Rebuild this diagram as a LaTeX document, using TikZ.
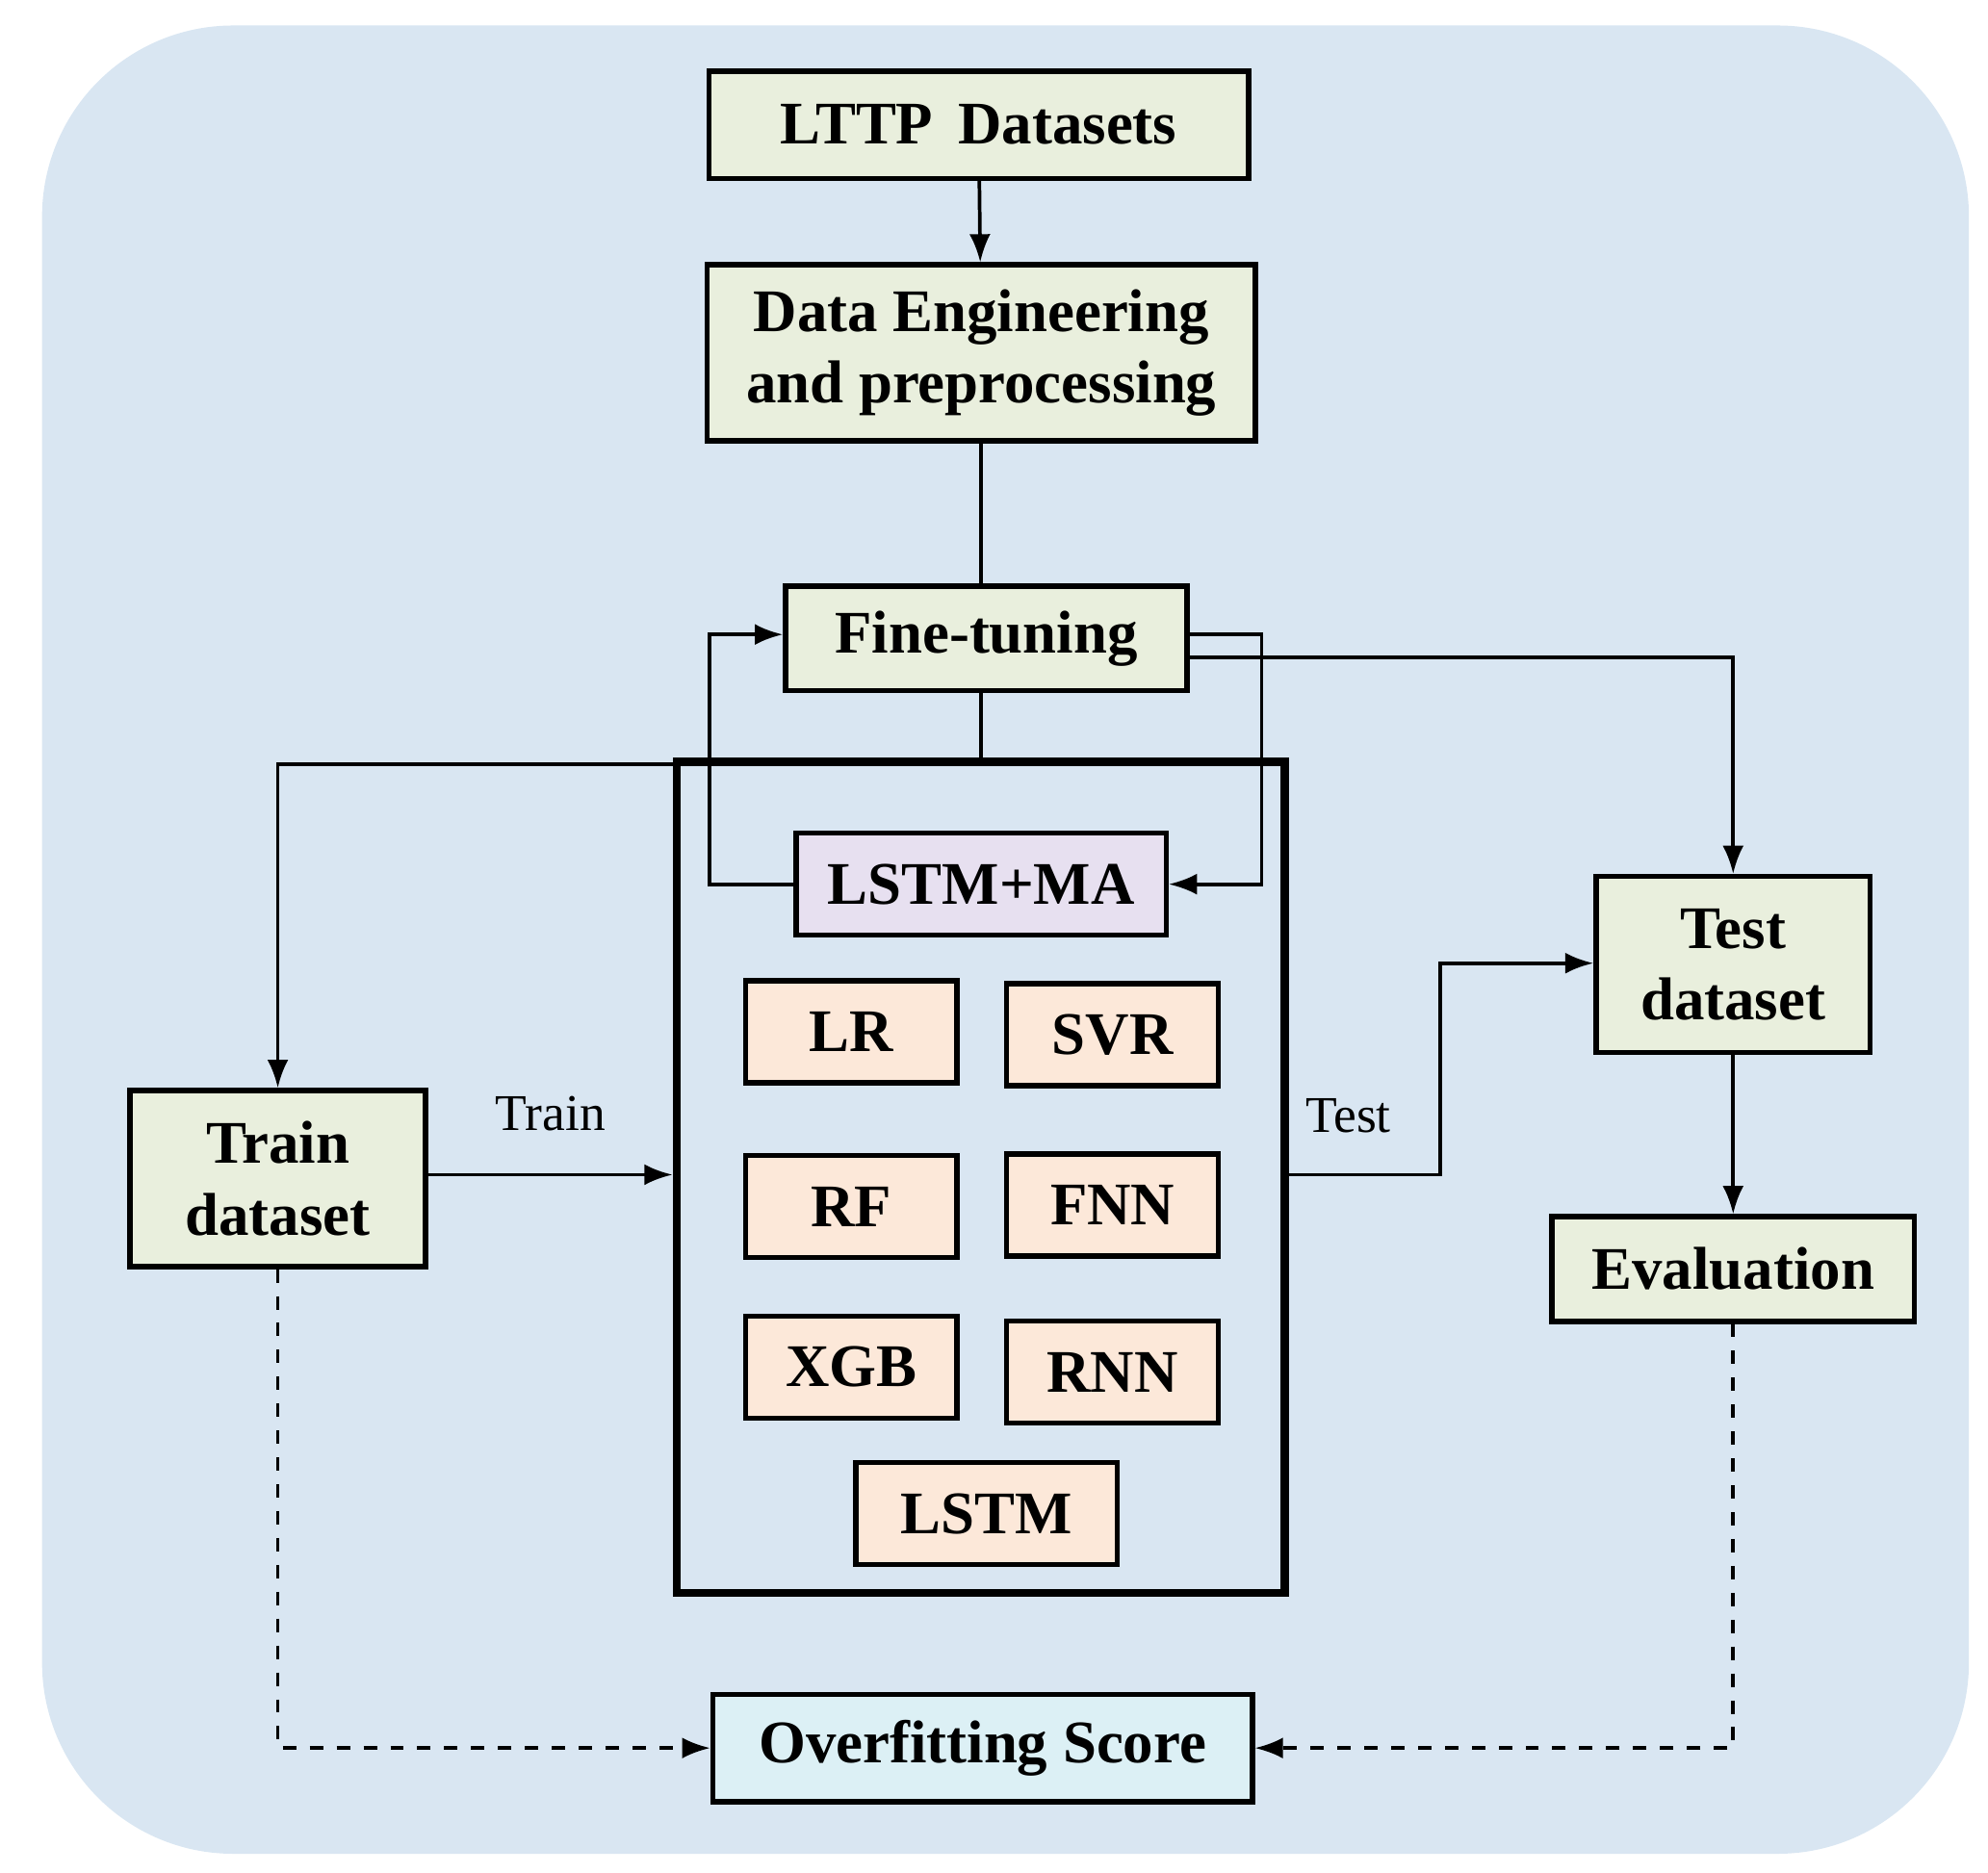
\documentclass[tikz,border=0pt]{standalone}
\usepackage{fontspec}
\setmainfont{Liberation Serif}
\usetikzlibrary{arrows.meta}
\definecolor{bgblue}{HTML}{D9E6F2}
\definecolor{boxgreen}{HTML}{E9EFDD}
\definecolor{boxorange}{HTML}{FCE8D9}
\definecolor{boxpurple}{HTML}{E7E0F0}
\definecolor{boxcyan}{HTML}{DCF0F5}
\begin{document}
\begin{tikzpicture}[
    x=0.01cm, y=-0.01cm,
    box/.style={draw, line width=1.2pt, font=\fontsize{13.5}{16}\selectfont\bfseries, align=center, inner sep=0pt}, % Стиль блоков
    stage/.style={box, fill=boxgreen},
    model/.style={box, fill=boxorange, minimum width=1.66cm, minimum height=0.8cm},
    link/.style={thick, -{Latex[length=2.2mm]}},
    plain/.style={thick},
    dashlink/.style={thick, dashed, -{Latex[length=2.2mm]}},
    lbl/.style={font=\fontsize{11.5}{13}\selectfont}
]
    \useasboundingbox (0,0) rectangle (1560,1470);
    % Фон
    \fill[bgblue, rounded corners=1.5cm] (33,20) rectangle (1545,1455);

    % Основные блоки
    \node[stage, minimum width=4.23cm, minimum height=0.84cm] (data) at (768,98) {LTTP\, Datasets};
    \node[stage, minimum width=4.3cm, minimum height=1.38cm] (prep) at (770,277) {Data Engineering\\and preprocessing};
    \node[stage, minimum width=3.15cm, minimum height=0.82cm] (tune) at (774,501) {Fine-tuning};
    \node[draw, line width=1.8pt, minimum width=4.77cm, minimum height=6.52cm, inner sep=0pt] (models) at (769.5,924) {};
    \node[stage, minimum width=2.32cm, minimum height=1.38cm] (train) at (218,925) {Train\\dataset};
    \node[stage, minimum width=2.15cm, minimum height=1.38cm] (test) at (1360,757) {Test\\dataset};
    \node[stage, minimum width=2.84cm, minimum height=0.82cm] (eval) at (1360,996) {Evaluation};
    \node[box, fill=boxcyan, minimum width=4.23cm, minimum height=0.84cm] (score) at (771,1372) {Overfitting Score};

    % Модели
    \node[box, fill=boxpurple, minimum width=2.9cm, minimum height=0.8cm] (lstmma) at (770,694) {LSTM+MA};
    \node[model] (lr) at (668,810) {LR};
    \node[model] (svr) at (873,812) {SVR};
    \node[model] (rf) at (668,947) {RF};
    \node[model] (fnn) at (873,946) {FNN};
    \node[model] (xgb) at (668,1073) {XGB};
    \node[model] (rnn) at (873,1077) {RNN};
    \node[model, minimum width=2.05cm] (lstm) at (774,1188) {LSTM};

    % Рёбра
    \draw[link] (data) -- (prep);
    \draw[plain] (prep.south) -- (tune.north -| prep.south);
    \draw[link] (tune.south -| prep.south) -- (770,600) -- (218,600) -- (train.north);
    \draw[link] (lstmma.west) -- (557,694) -- (557,498) -- (tune.west |- 0,498);
    \draw[link] (tune.east |- 0,498) -- (990,498) -- (990,694) -- (lstmma.east);
    \draw[link] (tune.east |- 0,516) -- (1360,516) -- (test.north);
    \draw[link] (train.east |- 0,922) -- node[lbl, above=6pt] {Train} (models.west |- 0,922);
    \draw[link] (models.east |- 0,922) -- (1130,922) -- (1130,756) -- (test.west |- 0,756);
    \node[lbl] at (1058,876) {Test};
    \draw[link] (test) -- (eval);
    \draw[dashlink] (train.south) -- (218,1372) -- (score.west);
    \draw[dashlink] (eval.south) -- (1360,1372) -- (score.east);
\end{tikzpicture}
\end{document}
